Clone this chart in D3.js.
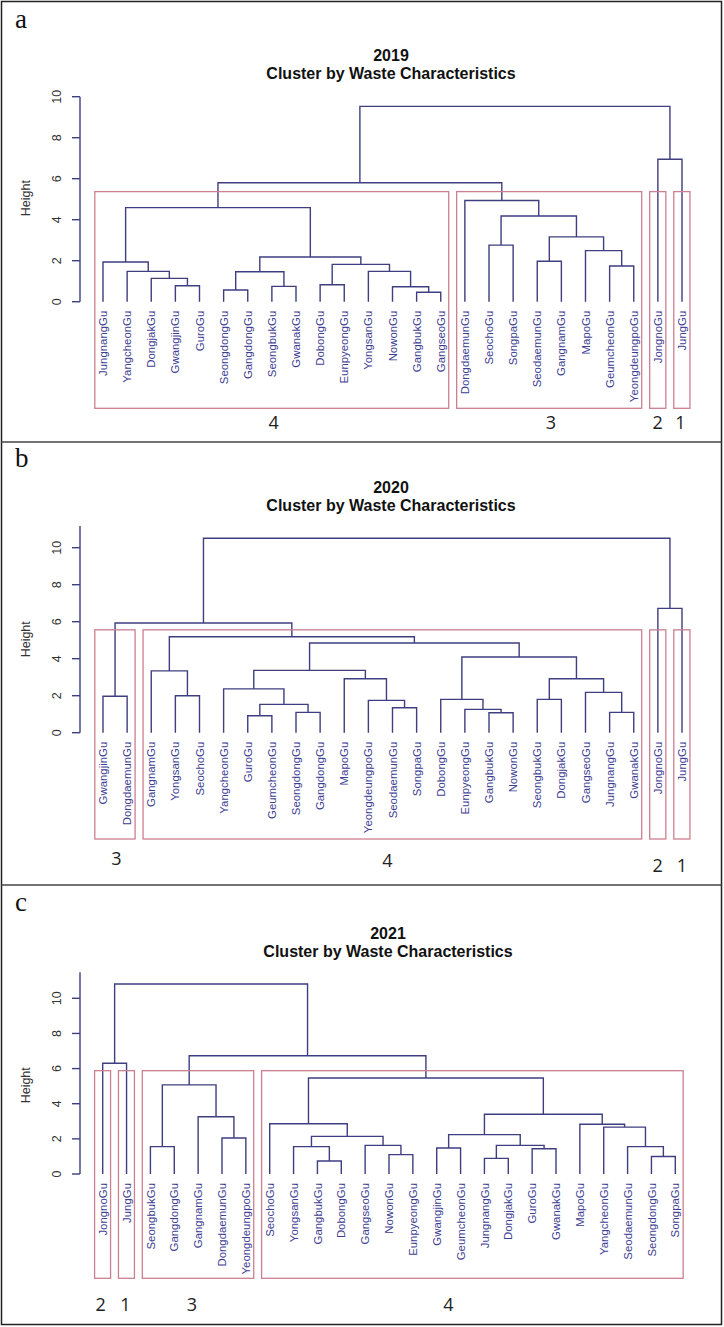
<!DOCTYPE html>
<html><head><meta charset="utf-8">
<script src="https://cdn.jsdelivr.net/npm/d3@7/dist/d3.min.js"></script>
<style>body{margin:0;background:#fff}svg{display:block}</style>
</head><body>
<svg id="chart" width="724" height="1327"></svg>
<script>
// ---------- DATA ----------
// Leaves in display order; merges in R hclust style (negative = leaf #, positive = earlier merge #)
const leaves2019 = ["JungnangGu","YangcheonGu","DongjakGu","GwangjinGu","GuroGu","SeongdongGu","GangdongGu","SeongbukGu","GwanakGu","DobongGu","EunpyeongGu","YongsanGu","NowonGu","GangbukGu","GangseoGu","DongdaemunGu","SeochoGu","SongpaGu","SeodaemunGu","GangnamGu","MapoGu","GeumcheonGu","YeongdeungpoGu","JongnoGu","JungGu"];
const merge2019 = [[-14,-15],[-6,-7],[-13,1],[-8,-9],[-4,-5],[-10,-11],[-3,5],[2,4],[-12,3],[-2,7],[-22,-23],[6,9],[-1,10],[-19,-20],[8,12],[-21,11],[-17,-18],[14,16],[17,18],[13,15],[-16,19],[20,21],[-24,-25],[22,23]];
const height2019 = [0.46,0.57,0.73,0.75,0.78,0.83,1.14,1.46,1.48,1.48,1.74,1.82,1.94,1.97,2.18,2.49,2.76,3.16,4.18,4.59,4.94,5.80,6.95,9.53];
const clusterNames2019 = ["4","3","2","1"];

const leaves2020 = ["GwangjinGu","DongdaemunGu","GangnamGu","YongsanGu","SeochoGu","YangcheonGu","GuroGu","GeumcheonGu","SeongdongGu","GangdongGu","MapoGu","YeongdeungpoGu","SeodaemunGu","SongpaGu","DobongGu","EunpyeongGu","GangbukGu","NowonGu","SeongbukGu","DongjakGu","GangseoGu","JungnangGu","GwanakGu","JongnoGu","JungGu"];
const merge2020 = [[-7,-8],[-17,-18],[-9,-10],[-22,-23],[-16,2],[-13,-14],[1,3],[-12,6],[-15,5],[-19,-20],[-1,-2],[-4,-5],[-21,4],[-6,7],[-11,8],[10,13],[-3,12],[14,15],[9,16],[18,19],[17,20],[11,21],[-24,-25],[22,23]];
const height2020 = [0.92,1.08,1.10,1.10,1.26,1.35,1.53,1.75,1.80,1.80,1.97,2.00,2.18,2.37,2.92,2.92,3.34,3.37,4.09,4.85,5.19,5.93,6.72,10.51];
const clusterNames2020 = ["3","4","2","1"];

const leaves2021 = ["JongnoGu","JungGu","SeongbukGu","GangdongGu","GangnamGu","DongdaemunGu","YeongdeungpoGu","SeochoGu","YongsanGu","GangbukGu","DobongGu","GangseoGu","NowonGu","EunpyeongGu","GwangjinGu","GeumcheonGu","JungnangGu","DongjakGu","GuroGu","GwanakGu","MapoGu","YangcheonGu","SeodaemunGu","SeongdongGu","SongpaGu"];
const merge2021 = [[-10,-11],[-17,-18],[-24,-25],[-13,-14],[-19,-20],[-15,-16],[-3,-4],[-9,1],[-23,3],[2,5],[-12,4],[-6,-7],[8,11],[6,10],[-22,9],[-21,15],[-8,13],[-5,12],[14,16],[7,18],[17,19],[-1,-2],[20,21],[22,23]];
const height2021 = [0.74,0.89,1.00,1.10,1.44,1.48,1.56,1.56,1.56,1.63,1.63,2.05,2.14,2.24,2.67,2.83,2.86,3.26,3.40,5.07,5.46,6.30,6.73,10.81];
const clusterNames2021 = ["2","1","3","4"];

const yTicks = [0,2,4,6,8,10];
const years = ["2019","2020","2021"];
const panelLetters = ["a","b","c"];
const mainTitle = "Cluster by Waste Characteristics";
const yLabel = "Height";
const kClusters = 4;

// ---------- LAYOUT ----------
const panels = [
  {leaves:leaves2019, merge:merge2019, height:height2019, names:clusterNames2019,
   xRange:[103,682], y0:301.7, y10:96.7, axisTop:10, boxBottom:408.3,
   letterY:28, yearY:60.7, titleY:79, titleX:391, numY:[429,429,429,429], numDx:[2,1.7,0,-1.4]},
  {leaves:leaves2020, merge:merge2020, height:height2020, names:clusterNames2020,
   xRange:[103,682], y0:732.7, y10:547.7, axisTop:11.17, boxBottom:839,
   letterY:467, yearY:492.7, titleY:511, titleX:391, numY:[865,867,872,872], numDx:[1.5,-5,0,0]},
  {leaves:leaves2021, merge:merge2021, height:height2021, names:clusterNames2021,
   xRange:[102.7,675.3], y0:1174, y10:998.3, axisTop:11.48, boxBottom:1278.3,
   letterY:911, yearY:939.3, titleY:957.3, titleX:388, numY:[1311,1311,1311,1311], numDx:[-2,-1,-6,-24]}
];

const LINE = "#3e3e80", LABEL = "#3d3d94", BOX = "#cc7f8f";
const svg = d3.select("#chart");

// outer frame and separators
svg.append("rect").attr("x",1.5).attr("y",1.5).attr("width",720).attr("height",1323)
  .attr("fill","none").attr("stroke","#222").attr("stroke-width",1.5);
[442,885].forEach(y => svg.append("line").attr("x1",1.5).attr("x2",721.5).attr("y1",y).attr("y2",y)
  .attr("stroke","#444").attr("stroke-width",1.5));

panels.forEach((p, pi) => {
  const g = svg.append("g");
  const n = p.leaves.length;
  const x = d3.scaleLinear().domain([0, n-1]).range(p.xRange);
  const y = d3.scaleLinear().domain([0, 10]).range([p.y0, p.y10]);

  // panel letter
  g.append("text").attr("x",15).attr("y",p.letterY).text(panelLetters[pi])
    .attr("font-family","'Liberation Serif','Times New Roman',serif").attr("font-size",27).attr("fill","#111");

  // titles
  g.append("text").attr("x",p.titleX).attr("y",p.yearY).attr("text-anchor","middle").text(years[pi])
    .attr("font-family","'Liberation Sans',Arial,sans-serif").attr("font-weight","bold").attr("font-size",16).attr("fill","#111");
  g.append("text").attr("x",p.titleX).attr("y",p.titleY).attr("text-anchor","middle").text(mainTitle)
    .attr("font-family","'Liberation Sans',Arial,sans-serif").attr("font-weight","bold").attr("font-size",16).attr("fill","#111");

  // y axis
  const ax = 80;
  g.append("line").attr("x1",ax).attr("x2",ax).attr("y1",y(0)).attr("y2",y(p.axisTop))
    .attr("stroke",LINE).attr("stroke-width",1.4);
  yTicks.forEach(t => {
    g.append("line").attr("x1",ax-8).attr("x2",ax).attr("y1",y(t)).attr("y2",y(t))
      .attr("stroke",LINE).attr("stroke-width",1.4);
    g.append("text").attr("transform",`translate(56.7,${y(t)}) rotate(-90)`).attr("text-anchor","middle")
      .attr("dy","0.36em").text(t).attr("font-family","'Liberation Sans',Arial,sans-serif")
      .attr("font-size",12.5).attr("fill","#333");
  });
  g.append("text").attr("transform",`translate(25,${y(5.05)}) rotate(-90)`).attr("text-anchor","middle")
    .attr("dy","0.36em").text(yLabel).attr("font-family","'Liberation Sans',Arial,sans-serif")
    .attr("font-size",12.5).attr("fill","#333");

  // dendrogram geometry
  const nodeX = [], nodeH = [];
  const cx = v => v < 0 ? x(-v-1) : nodeX[v-1];
  const ch = v => v < 0 ? 0 : nodeH[v-1];
  p.merge.forEach((m, i) => {
    nodeX[i] = (cx(m[0]) + cx(m[1])) / 2;
    nodeH[i] = p.height[i];
  });
  p.merge.forEach((m, i) => {
    const xa = cx(m[0]), xb = cx(m[1]);
    const d = `M${xa},${y(ch(m[0]))}V${y(nodeH[i])}H${xb}V${y(ch(m[1]))}`;
    g.append("path").attr("d",d).attr("fill","none").attr("stroke",LINE).attr("stroke-width",1.4);
  });

  // leaf labels
  p.leaves.forEach((name, i) => {
    g.append("text").attr("transform",`translate(${x(i)},${p.y0+9}) rotate(-90)`)
      .attr("text-anchor","end").attr("dy","0.36em").text(name)
      .attr("font-family","'Liberation Sans',Arial,sans-serif").attr("font-size",11.4).attr("fill",LABEL);
  });

  // cluster rectangles (cut into k groups)
  const nm = p.merge.length;
  const topSet = new Set(d3.range(nm-kClusters+2, nm+1));
  const groups = [];
  const collect = v => v < 0 ? [-v-1] : collect(p.merge[v-1][0]).concat(collect(p.merge[v-1][1]));
  topSet.forEach(k => p.merge[k-1].forEach(c => { if (!(c > 0 && topSet.has(c))) groups.push(collect(c)); }));
  groups.sort((a,b) => d3.min(a) - d3.min(b));
  const sortedH = p.height.slice().sort(d3.ascending);
  const boxH = (sortedH[nm-kClusters+1] + sortedH[nm-kClusters]) / 2;
  groups.forEach((gr, gi) => {
    const lo = d3.min(gr), hi = d3.max(gr);
    const x1 = x(lo - 0.34), x2 = x(hi + 0.33);
    g.append("rect").attr("x",x1).attr("y",y(boxH)).attr("width",x2-x1).attr("height",p.boxBottom-y(boxH))
      .attr("fill","none").attr("stroke",BOX).attr("stroke-width",1.3);
    g.append("text").attr("x",(x1+x2)/2 + p.numDx[gi]).attr("y",p.numY[gi]).attr("text-anchor","middle")
      .text(p.names[gi]).attr("font-family","'Open Sans','Noto Sans',sans-serif").attr("font-size",18).attr("fill","#222");
  });
});
</script>
</body></html>
